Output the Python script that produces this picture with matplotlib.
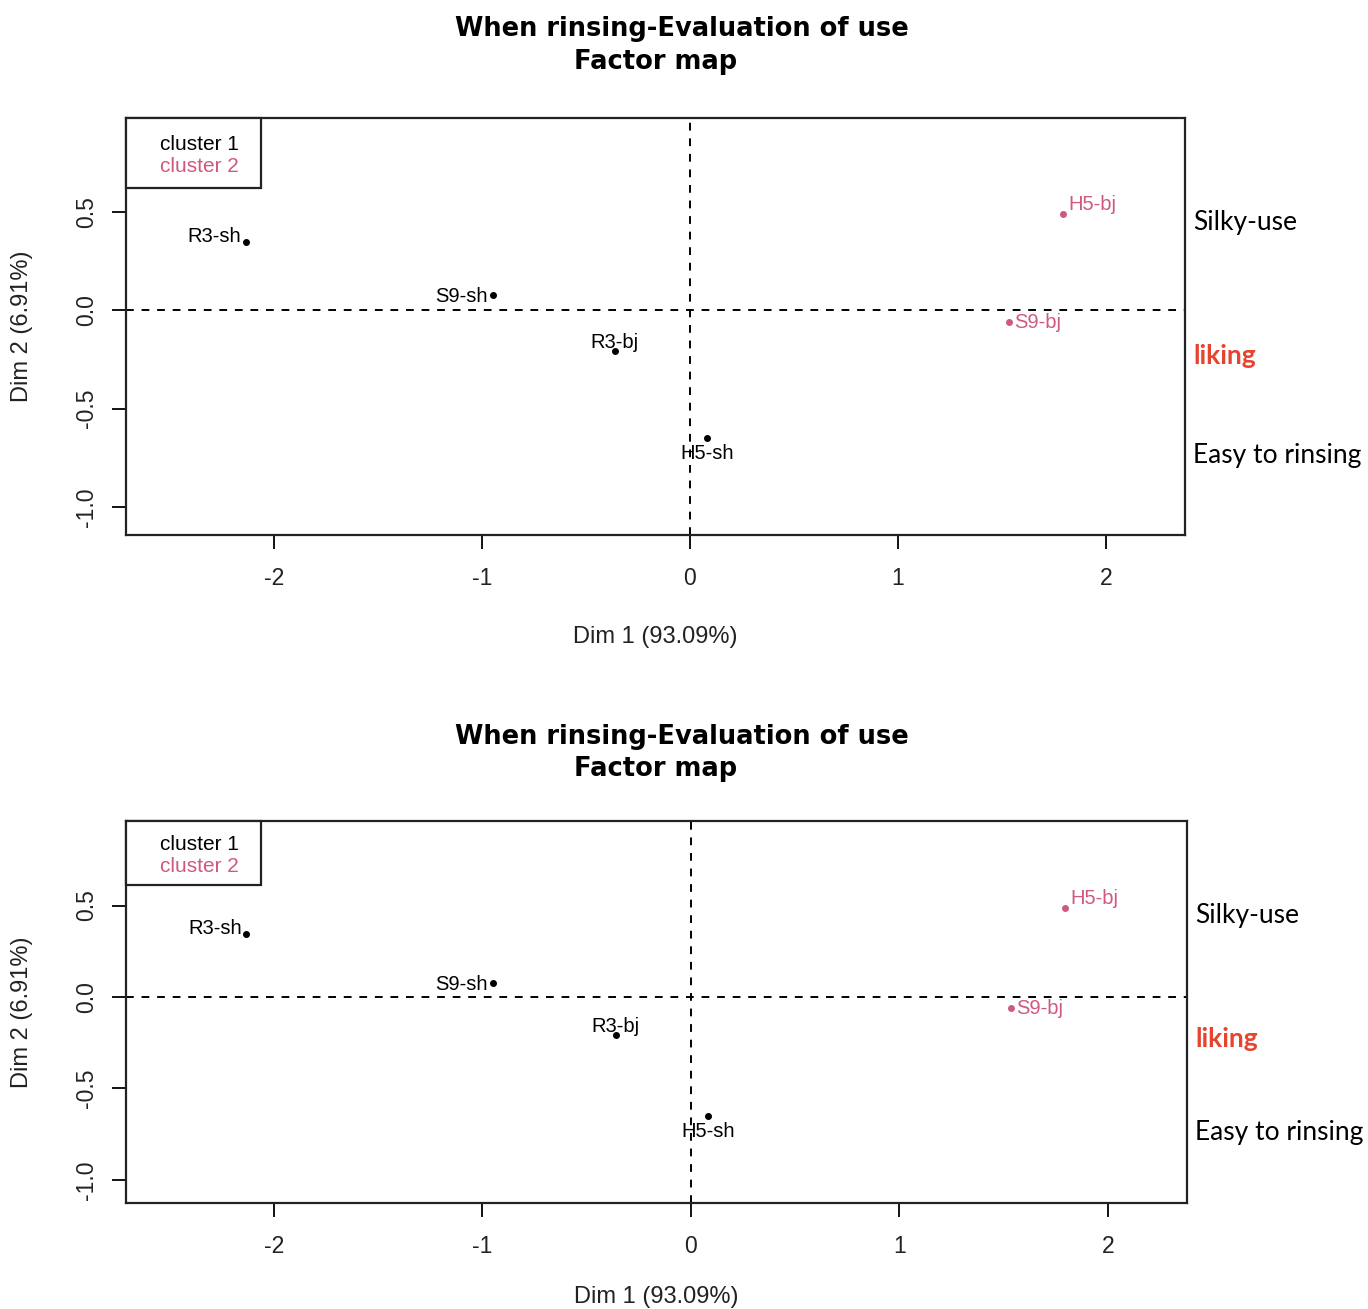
import matplotlib
matplotlib.use("Agg")
import matplotlib.pyplot as plt
import matplotlib.transforms as mtransforms
from matplotlib.patches import Rectangle

# --- data ---
labels = ["R3-sh", "S9-sh", "R3-bj", "H5-sh", "H5-bj", "S9-bj"]
dim1 = [-2.135, -0.947, -0.36, 0.082, 1.793, 1.534]
dim2 = [0.345, 0.076, -0.208, -0.65, 0.487, -0.061]
cluster = [1, 1, 1, 1, 2, 2]

x_ticks = [-2, -1, 0, 1, 2]
y_ticks = [-1.0, -0.5, 0.0, 0.5]
legend_labels = ["cluster 1", "cluster 2"]
side_labels = ["Silky-use", "liking", "Easy to rinsing"]
side_y = [0.445, -0.232, -0.738]

title1 = "When rinsing-Evaluation of use"
title2 = "Factor map"
xlab = "Dim 1 (93.09%)"
ylab = "Dim 2 (6.91%)"

# --- styling ---
cluster_colors = {1: "black", 2: "#CF5A7C"}
side_colors = ["black", "#E8432E", "black"]
side_weights = ["normal", "bold", "normal"]
# label placement: (dx, dy) in points, horizontal alignment
label_pos = {
    "R3-sh": (-3, 4, "right"),
    "S9-sh": (-4, -1, "right"),
    "R3-bj": (0, 6, "center"),
    "H5-sh": (0, -11, "center"),
    "H5-bj": (4, 7, "left"),
    "S9-bj": (4, 0, "left"),
}

W, H = 1368, 1309
fig = plt.figure(figsize=(W / 100, H / 100), dpi=100)

arial = ["Liberation Sans", "DejaVu Sans"]


def panel(box, ylim, title_ys, xlab_gap):
    l, t, r, b = box
    pw, ph = r - l, b - t
    ax = fig.add_axes([l / W, 1 - b / H, pw / W, ph / H])
    ax.set_xlim(-2.71, 2.38)
    ax.set_ylim(*ylim)

    ax.axhline(0, color="black", lw=1.4, ls=(0, (4, 4)), zorder=1)
    ax.axvline(0, color="black", lw=1.4, ls=(0, (4, 4)), zorder=1)

    for lab, x, y, c in zip(labels, dim1, dim2, cluster):
        col = cluster_colors[c]
        ax.plot(x, y, "o", ms=4, color=col, zorder=3)
        dx, dy, ha = label_pos[lab]
        ax.annotate(lab, (x, y), xytext=(dx, dy), textcoords="offset points",
                    ha=ha, va="center", fontsize=14.5, color=col, family=arial)

    ax.set_xticks(x_ticks)
    ax.set_xticklabels([str(v) for v in x_ticks])
    ax.set_yticks(y_ticks)
    ax.set_yticklabels(["%.1f" % v for v in y_ticks], rotation=90, va="center")
    ax.tick_params(axis="x", length=10, width=1.3, pad=13, labelsize=16.5)
    ax.tick_params(axis="y", length=10, width=1.3, pad=10, labelsize=16.5)
    for lbl in ax.get_xticklabels() + ax.get_yticklabels():
        lbl.set_family(arial)
        lbl.set_color("#222222")
    for s in ax.spines.values():
        s.set_linewidth(1.6)
        s.set_color("#222222")

    ax.text(0.5, -(xlab_gap / ph), xlab, transform=ax.transAxes, ha="center",
            va="center", fontsize=17, family=arial, color="#222222")
    fig.text(22 / W, 1 - (t + b) / 2 / H, ylab, rotation=90, ha="center",
             va="center", fontsize=17, family=arial, color="#222222")

    # legend box in the upper-left corner
    bw, bh = 135, (70 if ph > 400 else 64)
    ax.add_patch(Rectangle((0, 1 - bh / ph), bw / pw, bh / ph, transform=ax.transAxes,
                           fill=True, facecolor="white", edgecolor="#222222",
                           lw=1.6, zorder=4, clip_on=False))
    for i, (txt, c) in enumerate(zip(legend_labels, [1, 2])):
        yc = 1 - (bh / 2 + (i - 0.5) * 22 + 3) / ph
        ax.text(34 / pw, yc, txt, transform=ax.transAxes, ha="left", va="center",
                fontsize=15, family=arial, color=cluster_colors[c], zorder=5)

    trans = mtransforms.blended_transform_factory(ax.transAxes, ax.transData)
    for s, y, c, w in zip(side_labels, side_y, side_colors, side_weights):
        ax.text(1.0076, y, s, transform=trans, ha="left", va="center",
                fontsize=19, color=c, fontweight=w, family=["Lato", "DejaVu Sans"],
                clip_on=False)

    fig.text(682 / W, 1 - title_ys[0] / H, title1, ha="center", va="center",
             fontsize=18.5, fontweight="bold", family=["DejaVu Sans"])
    fig.text(656 / W, 1 - title_ys[1] / H, title2, ha="center", va="center",
             fontsize=18.5, fontweight="bold", family=["DejaVu Sans"])
    return ax


panel((126, 118, 1185, 535), (-1.142, 0.975), (29, 62), 102)
panel((126, 821, 1187, 1203), (-1.126, 0.962), (737, 769), 94)

fig.savefig("out.png", dpi=100)
